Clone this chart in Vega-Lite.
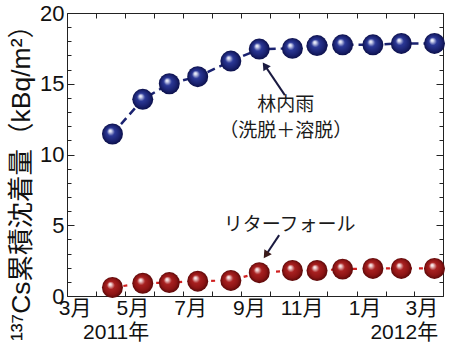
{
  "$schema": "https://vega.github.io/schema/vega-lite/v6.json",
  "width": 376,
  "height": 283,
  "autosize": "none",
  "padding": {"left": 67, "top": 13, "right": 7, "bottom": 53},
  "background": "white",
  "config": {"view": {"stroke": null}},
  "datasets": {
    "pts": [
      {"date": "2011-04-18", "series": "林内雨", "value": 11.45},
      {"date": "2011-05-20", "series": "林内雨", "value": 13.9},
      {"date": "2011-06-17", "series": "林内雨", "value": 15.0},
      {"date": "2011-07-17", "series": "林内雨", "value": 15.5},
      {"date": "2011-08-21", "series": "林内雨", "value": 16.6},
      {"date": "2011-09-20", "series": "林内雨", "value": 17.45},
      {"date": "2011-10-25", "series": "林内雨", "value": 17.5},
      {"date": "2011-11-20", "series": "林内雨", "value": 17.7},
      {"date": "2011-12-17", "series": "林内雨", "value": 17.75},
      {"date": "2012-01-18", "series": "林内雨", "value": 17.75},
      {"date": "2012-02-17", "series": "林内雨", "value": 17.85},
      {"date": "2012-03-23", "series": "林内雨", "value": 17.85},
      {"date": "2011-04-18", "series": "リターフォール", "value": 0.6},
      {"date": "2011-05-20", "series": "リターフォール", "value": 0.9},
      {"date": "2011-06-17", "series": "リターフォール", "value": 0.95},
      {"date": "2011-07-17", "series": "リターフォール", "value": 1.05},
      {"date": "2011-08-21", "series": "リターフォール", "value": 1.1},
      {"date": "2011-09-20", "series": "リターフォール", "value": 1.65},
      {"date": "2011-10-25", "series": "リターフォール", "value": 1.8},
      {"date": "2011-11-20", "series": "リターフォール", "value": 1.8},
      {"date": "2011-12-17", "series": "リターフォール", "value": 1.9},
      {"date": "2012-01-18", "series": "リターフォール", "value": 1.95},
      {"date": "2012-02-17", "series": "リターフォール", "value": 1.95},
      {"date": "2012-03-23", "series": "リターフォール", "value": 1.95}
    ],
    "arrows": [
      {"name": "林内雨", "date": "2011-10-17", "value": 14.2, "date2": "2011-09-26", "value2": 16.28},
      {"name": "リターフォール", "date": "2011-10-11", "value": 4.3, "date2": "2011-09-27", "value2": 2.9}
    ],
    "labels": [
      {"date": "2011-10-18", "value": 13.5, "text": "林内雨"},
      {"date": "2011-10-18", "value": 11.65, "text": "（洗脱＋溶脱）"},
      {"date": "2011-10-22", "value": 5.0, "text": "リターフォール"}
    ]
  },
  "resolve": {"axis": {"x": "independent", "y": "independent"}},
  "layer": [
    {
      "data": {"name": "pts"},
      "transform": [{"filter": "datum.series === '林内雨'"}],
      "mark": {"type": "line", "color": "#1a2270", "strokeWidth": 2.5, "strokeDash": [8, 5]},
      "encoding": {
        "x": {
          "field": "date", "type": "temporal",
          "scale": {"type": "utc", "domain": [1298937600000, 1333238400000]},
          "axis": {
            "orient": "bottom",
            "title": null,
            "grid": false,
            "values": [
              {"year": 2011, "month": 3, "date": 1, "utc": true},
              {"year": 2011, "month": 4, "date": 1, "utc": true},
              {"year": 2011, "month": 5, "date": 1, "utc": true},
              {"year": 2011, "month": 6, "date": 1, "utc": true},
              {"year": 2011, "month": 7, "date": 1, "utc": true},
              {"year": 2011, "month": 8, "date": 1, "utc": true},
              {"year": 2011, "month": 9, "date": 1, "utc": true},
              {"year": 2011, "month": 10, "date": 1, "utc": true},
              {"year": 2011, "month": 11, "date": 1, "utc": true},
              {"year": 2011, "month": 12, "date": 1, "utc": true},
              {"year": 2012, "month": 1, "date": 1, "utc": true},
              {"year": 2012, "month": 2, "date": 1, "utc": true},
              {"year": 2012, "month": 3, "date": 1, "utc": true},
              {"year": 2012, "month": 4, "date": 1, "utc": true}
            ],
            "labelExpr": "utcmonth(datum.value) % 2 === 0 ? ((utcyear(datum.value) === 2011 && utcmonth(datum.value) === 4) ? ['5月', '2011年'] : ((utcyear(datum.value) === 2012 && utcmonth(datum.value) === 2) ? ['3月', '2012年'] : (utcmonth(datum.value) + 1) + '月')) : ''",
            "labelAlign": "right",
            "labelOffset": 24,
            "labelBaseline": "top",
            "labelLineHeight": 24,
            "labelPadding": 6,
            "labelOverlap": false,
            "labelBound": false,
            "labelFlush": false,
            "labelFont": "Liberation Sans, Noto Sans CJK JP, sans-serif",
            "labelFontSize": 21,
            "labelColor": "#111",
            "tickSize": -5,
            "tickColor": "#222",
            "domainColor": "#222"
          }
        },
        "y": {
          "field": "value", "type": "quantitative",
          "scale": {"domain": [0, 20], "nice": false},
          "axis": {
            "orient": "left",
            "grid": false,
            "values": [0,1,2,3,4,5,6,7,8,9,10,11,12,13,14,15,16,17,18,19,20],
            "labelExpr": "datum.value % 5 === 0 ? datum.label : ''",
            "tickSize": {"condition": {"test": "datum.value % 5 === 0", "value": -7}, "value": -4},
            "labelPadding": 10,
            "labelFont": "Liberation Sans, sans-serif",
            "labelFontSize": 22,
            "labelColor": "#111",
            "labelBaseline": "middle",
            "tickColor": "#222",
            "domainColor": "#222",
            "title": "¹³⁷Cs累積沈着量（kBq/m²）",
            "titleFont": "Liberation Sans, Noto Sans CJK JP, sans-serif",
            "titleFontSize": 26.5,
            "titleFontWeight": "normal",
            "titleColor": "#111",
            "titleAngle": -90,
            "titleAlign": "center",
            "titleBaseline": "middle",
            "titleX": -46,
            "titleY": 163
          }
        }
      }
    },
    {
      "data": {"name": "pts"},
      "transform": [{"filter": "datum.series === 'リターフォール'"}],
      "mark": {"type": "line", "color": "#d02020", "strokeWidth": 2.2, "strokeDash": [4, 7]},
      "encoding": {
        "x": {
          "field": "date", "type": "temporal",
          "axis": {
            "orient": "top",
            "title": null,
            "grid": false,
            "labels": false,
            "values": [
              {"year": 2011, "month": 3, "date": 1, "utc": true},
              {"year": 2011, "month": 4, "date": 1, "utc": true},
              {"year": 2011, "month": 5, "date": 1, "utc": true},
              {"year": 2011, "month": 6, "date": 1, "utc": true},
              {"year": 2011, "month": 7, "date": 1, "utc": true},
              {"year": 2011, "month": 8, "date": 1, "utc": true},
              {"year": 2011, "month": 9, "date": 1, "utc": true},
              {"year": 2011, "month": 10, "date": 1, "utc": true},
              {"year": 2011, "month": 11, "date": 1, "utc": true},
              {"year": 2011, "month": 12, "date": 1, "utc": true},
              {"year": 2012, "month": 1, "date": 1, "utc": true},
              {"year": 2012, "month": 2, "date": 1, "utc": true},
              {"year": 2012, "month": 3, "date": 1, "utc": true},
              {"year": 2012, "month": 4, "date": 1, "utc": true}
            ],
            "tickSize": -5,
            "tickColor": "#222",
            "domainColor": "#222"
          }
        },
        "y": {
          "field": "value", "type": "quantitative",
          "axis": {
            "orient": "right",
            "title": null,
            "grid": false,
            "labels": false,
            "values": [0,1,2,3,4,5,6,7,8,9,10,11,12,13,14,15,16,17,18,19,20],
            "tickSize": {"condition": {"test": "datum.value % 5 === 0", "value": -7}, "value": -4},
            "tickColor": "#222",
            "domainColor": "#222"
          }
        }
      }
    },
    {
      "data": {"name": "pts"},
      "transform": [{"filter": "datum.series === '林内雨'"}],
      "mark": {
        "type": "circle", "size": 440, "opacity": 1,
        "fill": {"gradient": "radial", "x1": 0.38, "y1": 0.34, "r1": 0, "x2": 0.5, "y2": 0.5, "r2": 0.5,
          "stops": [
            {"offset": 0, "color": "#ffffff"},
            {"offset": 0.12, "color": "#d4d8f0"},
            {"offset": 0.38, "color": "#2b3896"},
            {"offset": 0.75, "color": "#1a2270"},
            {"offset": 1, "color": "#0c104a"}
          ]}
      },
      "encoding": {
        "x": {"field": "date", "type": "temporal", "axis": null},
        "y": {"field": "value", "type": "quantitative", "axis": null}
      }
    },
    {
      "data": {"name": "pts"},
      "transform": [{"filter": "datum.series === 'リターフォール'"}],
      "mark": {
        "type": "circle", "size": 440, "opacity": 1,
        "fill": {"gradient": "radial", "x1": 0.38, "y1": 0.34, "r1": 0, "x2": 0.5, "y2": 0.5, "r2": 0.5,
          "stops": [
            {"offset": 0, "color": "#ffffff"},
            {"offset": 0.12, "color": "#f0d0d0"},
            {"offset": 0.38, "color": "#a82020"},
            {"offset": 0.75, "color": "#8c1414"},
            {"offset": 1, "color": "#5a0808"}
          ]}
      },
      "encoding": {
        "x": {"field": "date", "type": "temporal", "axis": null},
        "y": {"field": "value", "type": "quantitative", "axis": null}
      }
    },
    {
      "data": {"name": "arrows"},
      "mark": {"type": "rule", "color": "#1a1a40", "strokeWidth": 2},
      "encoding": {
        "x": {"field": "date", "type": "temporal", "axis": null},
        "y": {"field": "value", "type": "quantitative", "axis": null},
        "x2": {"field": "date2"},
        "y2": {"field": "value2"}
      }
    },
    {
      "data": {"name": "arrows"},
      "transform": [{"filter": "datum.name === '林内雨'"}],
      "mark": {"type": "point", "shape": "triangle-up", "filled": true, "color": "#1a1a40", "size": 80, "angle": 326, "opacity": 1},
      "encoding": {
        "x": {"field": "date2", "type": "temporal", "axis": null},
        "y": {"field": "value2", "type": "quantitative", "axis": null}
      }
    },
    {
      "data": {"name": "arrows"},
      "transform": [{"filter": "datum.name === 'リターフォール'"}],
      "mark": {"type": "point", "shape": "triangle-up", "filled": true, "color": "#3a1a1a", "size": 80, "angle": 214, "opacity": 1},
      "encoding": {
        "x": {"field": "date2", "type": "temporal", "axis": null},
        "y": {"field": "value2", "type": "quantitative", "axis": null}
      }
    },
    {
      "data": {"name": "labels"},
      "mark": {"type": "text", "font": "Noto Sans CJK JP", "fontSize": 19, "color": "#1a1a1a", "align": "center", "baseline": "middle"},
      "encoding": {
        "x": {"field": "date", "type": "temporal", "axis": null},
        "y": {"field": "value", "type": "quantitative", "axis": null},
        "text": {"field": "text"}
      }
    }
  ]
}
